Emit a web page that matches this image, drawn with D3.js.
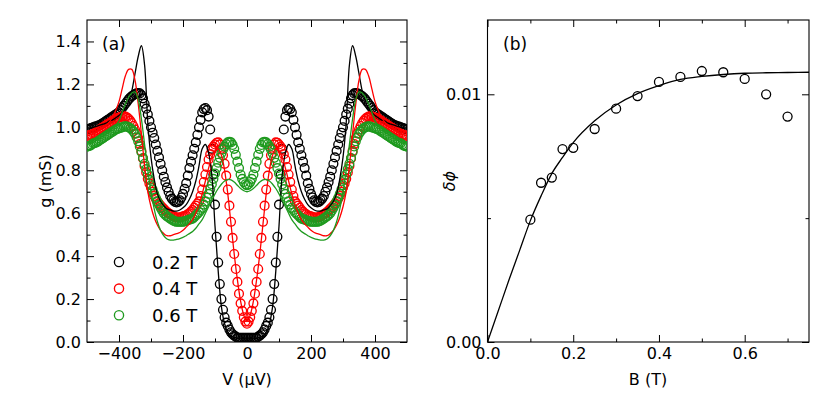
<!DOCTYPE html>
<html>
<head>
<meta charset="utf-8">
<script src="https://cdn.jsdelivr.net/npm/d3@7"></script>
<style>
  body { margin: 0; background: #fff; }
  svg { display: block; font-family: 'DejaVu Sans', sans-serif; }
</style>
</head>
<body>
<script>
const width = 830;
const height = 402;

// ---- panel (a): measured g(V) at three fields, V in µV (5 µV steps) ----
const vData = [
  -500,-495,-490,-485,-480,-475,-470,-465,-460,-455,
  -450,-445,-440,-435,-430,-425,-420,-415,-410,-405,
  -400,-395,-390,-385,-380,-375,-370,-365,-360,-355,
  -350,-345,-340,-335,-330,-325,-320,-315,-310,-305,
  -300,-295,-290,-285,-280,-275,-270,-265,-260,-255,
  -250,-245,-240,-235,-230,-225,-220,-215,-210,-205,
  -200,-195,-190,-185,-180,-175,-170,-165,-160,-155,
  -150,-145,-140,-135,-130,-125,-120,-115,-110,-105,
  -100,-95,-90,-85,-80,-75,-70,-65,-60,-55,
  -50,-45,-40,-35,-30,-25,-20,-15,-10,-5,
  0,
  5,10,15,20,25,30,35,40,45,50,
  55,60,65,70,75,80,85,90,95,100,
  105,110,115,120,125,130,135,140,145,150,
  155,160,165,170,175,180,185,190,195,200,
  205,210,215,220,225,230,235,240,245,250,
  255,260,265,270,275,280,285,290,295,300,
  305,310,315,320,325,330,335,340,345,350,
  355,360,365,370,375,380,385,390,395,400,
  405,410,415,420,425,430,435,440,445,450,
  455,460,465,470,475,480,485,490,495,500
];

const g02 = [
  0.99,0.992,0.995,0.998,1.0,1.003,1.005,1.008,1.01,1.015,
  1.02,1.025,1.03,1.035,1.04,1.045,1.05,1.055,1.06,1.065,
  1.07,1.08,1.09,1.10,1.11,1.12,1.13,1.138,1.145,1.15,
  1.155,1.158,1.16,1.158,1.15,1.135,1.11,1.087,1.06,1.03,
  1.0,0.975,0.95,0.92,0.89,0.86,0.83,0.80,0.77,0.745,
  0.72,0.70,0.68,0.668,0.66,0.653,0.65,0.653,0.66,0.673,
  0.69,0.713,0.74,0.775,0.81,0.84,0.87,0.90,0.93,0.965,
  1.0,1.035,1.07,1.085,1.09,1.08,1.05,0.99,0.9,0.78,
  0.64,0.49,0.37,0.27,0.2,0.15,0.115,0.09,0.075,0.058,
  0.045,0.036,0.03,0.025,0.02,0.02,0.02,0.02,0.02,0.02,
  0.02,
  0.02,0.02,0.02,0.02,0.02,0.02,0.025,0.03,0.036,0.045,
  0.058,0.075,0.09,0.115,0.15,0.2,0.27,0.37,0.49,0.64,
  0.78,0.9,0.99,1.05,1.08,1.09,1.085,1.07,1.035,1.0,
  0.965,0.93,0.90,0.87,0.84,0.81,0.775,0.74,0.713,0.69,
  0.673,0.66,0.653,0.65,0.653,0.66,0.668,0.68,0.70,0.72,
  0.745,0.77,0.80,0.83,0.86,0.89,0.92,0.95,0.975,1.0,
  1.03,1.06,1.087,1.11,1.135,1.15,1.158,1.16,1.158,1.155,
  1.15,1.145,1.138,1.13,1.12,1.11,1.10,1.09,1.08,1.07,
  1.065,1.06,1.055,1.05,1.045,1.04,1.035,1.03,1.025,1.02,
  1.015,1.01,1.008,1.005,1.003,1.0,0.998,0.995,0.992,0.99
];

const g04 = [
  0.96,0.962,0.965,0.967,0.97,0.975,0.98,0.985,0.99,0.995,
  1.0,1.005,1.01,1.015,1.02,1.025,1.03,1.035,1.04,1.043,
  1.045,1.048,1.05,1.051,1.05,1.046,1.04,1.031,1.02,1.006,
  0.99,0.972,0.95,0.922,0.89,0.855,0.82,0.79,0.76,0.738,
  0.72,0.70,0.68,0.667,0.655,0.645,0.635,0.627,0.62,0.612,
  0.605,0.60,0.595,0.59,0.585,0.582,0.58,0.58,0.58,0.582,
  0.585,0.587,0.59,0.595,0.60,0.607,0.615,0.625,0.635,0.645,
  0.655,0.68,0.71,0.745,0.78,0.815,0.85,0.875,0.895,0.91,
  0.92,0.928,0.93,0.92,0.9,0.87,0.83,0.775,0.71,0.635,
  0.56,0.485,0.41,0.34,0.28,0.225,0.18,0.145,0.115,0.095,
  0.085,
  0.095,0.115,0.145,0.18,0.225,0.28,0.34,0.41,0.485,0.56,
  0.635,0.71,0.775,0.83,0.87,0.9,0.92,0.93,0.928,0.92,
  0.91,0.895,0.875,0.85,0.815,0.78,0.745,0.71,0.68,0.655,
  0.645,0.635,0.625,0.615,0.607,0.60,0.595,0.59,0.587,0.585,
  0.582,0.58,0.58,0.58,0.582,0.585,0.59,0.595,0.60,0.605,
  0.612,0.62,0.627,0.635,0.645,0.655,0.667,0.68,0.70,0.72,
  0.738,0.76,0.79,0.82,0.855,0.89,0.922,0.95,0.972,0.99,
  1.006,1.02,1.031,1.04,1.046,1.05,1.051,1.05,1.048,1.045,
  1.043,1.04,1.035,1.03,1.025,1.02,1.015,1.01,1.005,1.0,
  0.995,0.99,0.985,0.98,0.975,0.97,0.967,0.965,0.962,0.96
];

const g06 = [
  0.91,0.912,0.915,0.92,0.925,0.927,0.93,0.935,0.94,0.945,
  0.95,0.955,0.96,0.965,0.97,0.975,0.98,0.985,0.99,0.993,
  0.995,0.998,1.0,1.003,1.005,1.003,1.0,0.996,0.99,0.981,
  0.97,0.954,0.935,0.911,0.885,0.857,0.83,0.805,0.78,0.755,
  0.73,0.71,0.69,0.672,0.655,0.64,0.625,0.612,0.60,0.592,
  0.585,0.58,0.575,0.57,0.565,0.562,0.56,0.56,0.56,0.56,
  0.56,0.562,0.565,0.567,0.57,0.572,0.575,0.582,0.59,0.597,
  0.605,0.615,0.625,0.64,0.655,0.672,0.69,0.712,0.735,0.76,
  0.785,0.81,0.835,0.858,0.88,0.897,0.91,0.922,0.93,0.932,
  0.93,0.918,0.9,0.872,0.84,0.81,0.78,0.76,0.745,0.735,
  0.73,
  0.735,0.745,0.76,0.78,0.81,0.84,0.872,0.9,0.918,0.93,
  0.932,0.93,0.922,0.91,0.897,0.88,0.858,0.835,0.81,0.785,
  0.76,0.735,0.712,0.69,0.672,0.655,0.64,0.625,0.615,0.605,
  0.597,0.59,0.582,0.575,0.572,0.57,0.567,0.565,0.562,0.56,
  0.56,0.56,0.56,0.56,0.562,0.565,0.57,0.575,0.58,0.585,
  0.592,0.60,0.612,0.625,0.64,0.655,0.672,0.69,0.71,0.73,
  0.755,0.78,0.805,0.83,0.857,0.885,0.911,0.935,0.954,0.97,
  0.981,0.99,0.996,1.0,1.003,1.005,1.003,1.0,0.998,0.995,
  0.993,0.99,0.985,0.98,0.975,0.97,0.965,0.96,0.955,0.95,
  0.945,0.94,0.935,0.93,0.927,0.925,0.92,0.915,0.912,0.91
];

// fitted curves, 10 µV steps
const vFit = [
  -500,-490,-480,-470,-460,-450,-440,-430,-420,-410,
  -400,-390,-380,-370,-360,-350,-340,-330,-320,-310,
  -300,-290,-280,-270,-260,-250,-240,-230,-220,-210,
  -200,-190,-180,-170,-160,-150,-140,-130,-120,-110,
  -100,-90,-80,-70,-60,-50,-40,-30,-20,-10,
  0,
  10,20,30,40,50,60,70,80,90,100,
  110,120,130,140,150,160,170,180,190,200,
  210,220,230,240,250,260,270,280,290,300,
  310,320,330,340,350,360,370,380,390,400,
  410,420,430,440,450,460,470,480,490,500
];

const fit02 = [
  0.99,0.995,1.0,1.005,1.01,1.015,1.02,1.03,1.035,1.045,
  1.055,1.07,1.09,1.12,1.17,1.25,1.33,1.38,1.29,1.02,
  0.86,0.76,0.69,0.655,0.635,0.62,0.615,0.61,0.61,0.615,
  0.625,0.64,0.665,0.7,0.75,0.82,0.9,0.92,0.88,0.78,
  0.54,0.33,0.165,0.085,0.045,0.028,0.02,0.017,0.015,0.015,
  0.015,
  0.015,0.015,0.017,0.02,0.028,0.045,0.085,0.165,0.33,0.54,
  0.78,0.88,0.92,0.9,0.82,0.75,0.7,0.665,0.64,0.625,
  0.615,0.61,0.61,0.615,0.62,0.635,0.655,0.69,0.76,0.86,
  1.02,1.29,1.38,1.33,1.25,1.17,1.12,1.09,1.07,1.055,
  1.045,1.035,1.03,1.02,1.015,1.01,1.005,1.0,0.995,0.99
];

const fit04 = [
  0.96,0.965,0.97,0.98,0.99,1.0,1.01,1.025,1.05,1.08,
  1.12,1.18,1.24,1.27,1.27,1.22,1.11,0.97,0.82,0.7,
  0.63,0.58,0.545,0.52,0.505,0.495,0.495,0.5,0.505,0.51,
  0.52,0.535,0.55,0.57,0.6,0.64,0.69,0.75,0.81,0.86,
  0.89,0.9,0.87,0.8,0.69,0.55,0.41,0.29,0.19,0.125,
  0.095,
  0.125,0.19,0.29,0.41,0.55,0.69,0.8,0.87,0.9,0.89,
  0.86,0.81,0.75,0.69,0.64,0.6,0.57,0.55,0.535,0.52,
  0.51,0.505,0.5,0.495,0.495,0.505,0.52,0.545,0.58,0.63,
  0.7,0.82,0.97,1.11,1.22,1.27,1.27,1.24,1.18,1.12,
  1.08,1.05,1.025,1.01,1.0,0.99,0.98,0.97,0.965,0.96
];

const fit06 = [
  0.92,0.925,0.93,0.94,0.95,0.96,0.97,0.98,0.995,1.01,
  1.03,1.07,1.11,1.14,1.16,1.165,1.13,1.04,0.92,0.8,
  0.7,0.62,0.56,0.52,0.495,0.48,0.475,0.475,0.478,0.482,
  0.488,0.495,0.505,0.515,0.53,0.55,0.57,0.6,0.63,0.66,
  0.69,0.715,0.735,0.75,0.757,0.755,0.745,0.73,0.715,0.705,
  0.7,
  0.705,0.715,0.73,0.745,0.755,0.757,0.75,0.735,0.715,0.69,
  0.66,0.63,0.6,0.57,0.55,0.53,0.515,0.505,0.495,0.488,
  0.482,0.478,0.475,0.475,0.48,0.495,0.52,0.56,0.62,0.7,
  0.8,0.92,1.04,1.13,1.165,1.16,1.14,1.11,1.07,1.03,
  1.01,0.995,0.98,0.97,0.96,0.95,0.94,0.93,0.925,0.92
];

const fieldLabels = ['0.2 T', '0.4 T', '0.6 T'];
const fieldColors = ['#000000', '#ff0000', '#1f9a1f'];

const aXMajor = [-400, -200, 0, 200, 400];
const aXMinor = [-300, -100, 100, 300];
const aYMajor = [0, 0.2, 0.4, 0.6, 0.8, 1.0, 1.2, 1.4];
const aYMinor = [0.1, 0.3, 0.5, 0.7, 0.9, 1.1, 1.3];

// ---- panel (b): dephasing vs B ----
const bField = [0.1, 0.125, 0.15, 0.175, 0.2, 0.25, 0.3, 0.35, 0.4, 0.45, 0.5, 0.55, 0.6, 0.65, 0.7];
const dPhi = [0.00494, 0.00643, 0.00664, 0.00779, 0.00784, 0.0086, 0.00942, 0.00993, 0.0105, 0.0107, 0.01094, 0.01089, 0.01062, 0.01, 0.0091];

const bFitField = [0, 0.025, 0.05, 0.075, 0.1, 0.125, 0.15, 0.175, 0.2, 0.25, 0.3, 0.35, 0.4, 0.45, 0.5, 0.55, 0.6, 0.65, 0.7, 0.75];
const bFitPhi = [0, 0.00125, 0.0025, 0.0037, 0.0049, 0.0059, 0.0068, 0.00745, 0.00805, 0.00893, 0.00957, 0.01003, 0.01035, 0.0106, 0.01072, 0.0108, 0.01085, 0.01087, 0.01088, 0.01089];

const bXMajor = [0, 0.2, 0.4, 0.6];
const bXMinor = [0.1, 0.3, 0.5, 0.7];
const bYMajor = [0, 0.01];
const bYMinor = [0.005];

const svg = d3.select('body')
    .append('svg')
    .attr('width', width)
    .attr('height', height);

var xA = d3.scaleLinear().domain([-500, 500]).range([87, 407]);
var yA = d3.scaleLinear().domain([0, 1.5]).range([342, 20]);
var xB = d3.scaleLinear().domain([0, 0.75]).range([487.5, 809]);
var yB = d3.scaleLinear().domain([0, 0.013]).range([342, 20]);

// inward ticks on all four sides, labels only bottom/left
function drawAxes(x, y, t) {
    const [x0, x1] = x.range();
    const [y0, y1] = y.range();
    const sets = [[t.xMajor, t.yMajor, 7, true], [t.xMinor, t.yMinor, 3.5, false]];
    sets.forEach(([xv, yv, len, lab]) => {
        svg.append('g').attr('class', 'ax')
            .attr('transform', `translate(0,${y0})`)
            .call(d3.axisBottom(x).tickValues(xv).tickSize(-len).tickPadding(6)
                .tickFormat(lab ? t.xFmt : () => ''));
        svg.append('g').attr('class', 'ax')
            .attr('transform', `translate(0,${y1})`)
            .call(d3.axisTop(x).tickValues(xv).tickSize(-len).tickFormat(() => ''));
        svg.append('g').attr('class', 'ax')
            .attr('transform', `translate(${x0},0)`)
            .call(d3.axisLeft(y).tickValues(yv).tickSize(-len).tickPadding(6)
                .tickFormat(lab ? t.yFmt : () => ''));
        svg.append('g').attr('class', 'ax')
            .attr('transform', `translate(${x1},0)`)
            .call(d3.axisRight(y).tickValues(yv).tickSize(-len).tickFormat(() => ''));
    });
    svg.append('rect')
        .attr('x', x0).attr('y', y1)
        .attr('width', x1 - x0).attr('height', y0 - y1)
        .attr('fill', 'none').attr('stroke', '#000').attr('stroke-width', 1.1);
}

drawAxes(xA, yA, {xMajor: aXMajor, xMinor: aXMinor, yMajor: aYMajor, yMinor: aYMinor,
    xFmt: d3.format('d'), yFmt: d3.format('.1f')});
drawAxes(xB, yB, {xMajor: bXMajor, xMinor: bXMinor, yMajor: bYMajor, yMinor: bYMinor,
    xFmt: d3.format('.1f'), yFmt: d3.format('.2f')});

svg.selectAll('.ax .domain').remove();
svg.selectAll('.ax line').attr('stroke', '#000').attr('stroke-width', 1);
svg.selectAll('.ax text').attr('font-size', 16).attr('fill', '#000')
    .attr('font-family', 'DejaVu Sans');

// clip regions
const defs = svg.append('defs');
defs.append('clipPath').attr('id', 'clipA').append('rect')
    .attr('x', 87).attr('y', 20).attr('width', 320).attr('height', 322);
defs.append('clipPath').attr('id', 'clipB').append('rect')
    .attr('x', 487.5).attr('y', 20).attr('width', 321.5).attr('height', 322);

const plotA = svg.append('g').attr('clip-path', 'url(#clipA)');
const seriesA = [g02, g04, g06];
const fitsA = [fit02, fit04, fit06];

seriesA.forEach((vals, k) => {
    plotA.append('g')
        .selectAll('circle')
        .data(vals)
        .enter()
        .append('circle')
        .attr('cx', (d, i) => xA(vData[i]))
        .attr('cy', d => yA(d))
        .attr('r', 4.4)
        .attr('fill', 'none')
        .attr('stroke', fieldColors[k])
        .attr('stroke-width', 1.35);
});

fitsA.forEach((vals, k) => {
    plotA.append('path')
        .datum(vals)
        .attr('fill', 'none')
        .attr('stroke', fieldColors[k])
        .attr('stroke-width', 1.3)
        .attr('d', d3.line()
            .x((d, i) => xA(vFit[i]))
            .y(d => yA(d))
            .curve(d3.curveCatmullRom));
});

// legend
fieldLabels.forEach((lab, k) => {
    const ly = 262 + k * 26.6;
    svg.append('circle')
        .attr('cx', 119).attr('cy', ly).attr('r', 4.6)
        .attr('fill', 'none').attr('stroke', fieldColors[k]).attr('stroke-width', 1.35);
    svg.append('text')
        .attr('x', 152).attr('y', ly + 6.5)
        .attr('font-size', 18)
        .text(lab);
});

// panel (b)
const plotB = svg.append('g').attr('clip-path', 'url(#clipB)');
plotB.append('path')
    .datum(bFitPhi)
    .attr('fill', 'none')
    .attr('stroke', '#000')
    .attr('stroke-width', 1.3)
    .attr('d', d3.line()
        .x((d, i) => xB(bFitField[i]))
        .y(d => yB(d))
        .curve(d3.curveMonotoneX));

plotB.selectAll('.pt')
    .data(dPhi)
    .enter()
    .append('circle')
    .attr('class', 'pt')
    .attr('cx', (d, i) => xB(bField[i]))
    .attr('cy', d => yB(d))
    .attr('r', 4.5)
    .attr('fill', 'none')
    .attr('stroke', '#000')
    .attr('stroke-width', 1.3);

// labels
svg.append('text').attr('x', 102).attr('y', 50).attr('font-size', 17).text('(a)');
svg.append('text').attr('x', 503).attr('y', 50).attr('font-size', 17).text('(b)');

svg.append('text')
    .attr('x', 247).attr('y', 385)
    .attr('text-anchor', 'middle').attr('font-size', 16)
    .text('V (\u03bcV)');
svg.append('text')
    .attr('x', 648).attr('y', 385)
    .attr('text-anchor', 'middle').attr('font-size', 16)
    .text('B (T)');
svg.append('text')
    .attr('transform', 'translate(51,181) rotate(-90)')
    .attr('text-anchor', 'middle').attr('font-size', 16)
    .text('g (mS)');
svg.append('text')
    .attr('transform', 'translate(455,181) rotate(-90)')
    .attr('text-anchor', 'middle').attr('font-size', 16)
    .attr('font-style', 'italic')
    .text('\u03b4\u03d5');
</script>
</body>
</html>
